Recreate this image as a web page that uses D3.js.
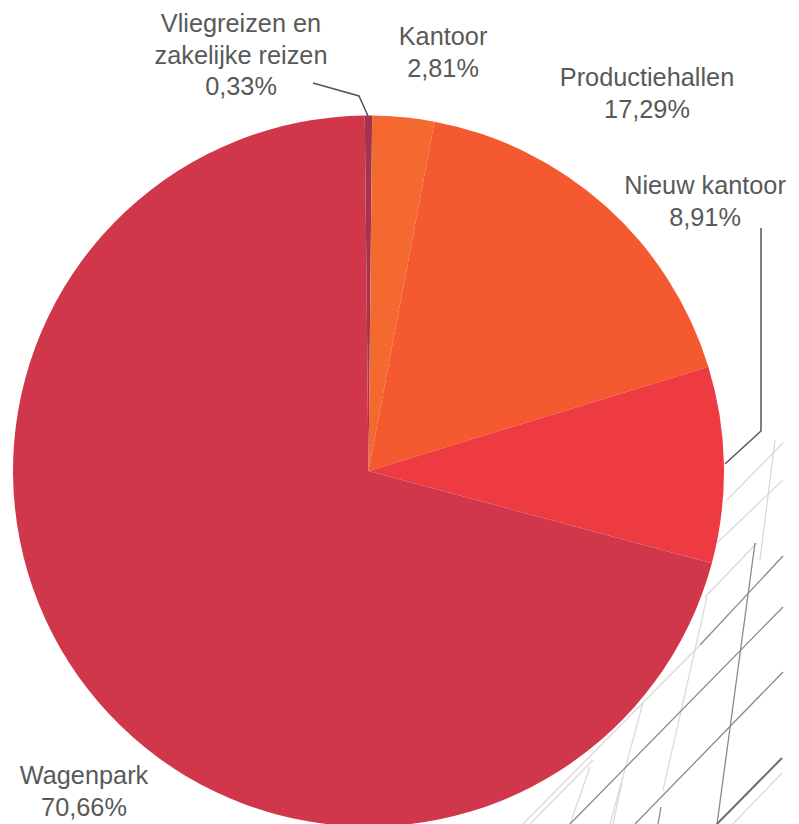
<!DOCTYPE html>
<html><head><meta charset="utf-8">
<script src="https://cdn.jsdelivr.net/npm/d3@7"></script>
<style>html,body{margin:0;padding:0;background:#fff}svg{display:block}
text{font-family:"Liberation Sans",Arial,sans-serif;font-size:25.3px;fill:#595959}</style>
</head><body><div id="c"></div>
<script>
const categories=["Vliegreizen en zakelijke reizen","Kantoor","Productiehallen","Nieuw kantoor","Wagenpark"];
const shares=[0.33,2.81,17.29,8.91,70.66];
const colors=["#a3344f","#f4692f","#f5592f","#ee3b42","#d1374b"];
const labelLines=[["Vliegreizen en","zakelijke reizen","0,33%"],["Kantoor","2,81%"],["Productiehallen","17,29%"],["Nieuw kantoor","8,91%"],["Wagenpark","70,66%"]];
const labelAnchors=[[241,32],[443,45],[647,86],[705,194],[84,784]];
const leaders=[[[313,83],[359,96],[368,116]],[[761,228],[761,431],[725,464]]];
// faint architectural line-work showing through the scanned page
const darkLines=[[[700,645],[783,556]],[[570,824],[783,607]],[[635,824],[783,672]],[[717,824],[755,543]],[[661,807],[658,824]]];
const thickLines=[[[717,824],[782,758]]];
const paleLines=[[[523,824],[700,645]],[[530,824],[593,760]],[[610,824],[643,703]],[[663,790],[707,597]],[[570,824],[590,767]],[[613,824],[622,783]],[[727,500],[783,443]],[[717,543],[783,480]],[[733,824],[782,773]],[[760,560],[775,440]],[[705,597],[757,543]]];

const W=799,H=824,cx=368.5,cy=471,R=355.5;
const svg=d3.select("#c").append("svg").attr("width",W).attr("height",H);
const line=d3.line();
function strokes(data,color,width){
  svg.append("g").selectAll("path").data(data).join("path").attr("d",line).attr("fill","none").attr("stroke",color).attr("stroke-width",width);
}
strokes(paleLines,"#d8d8d8",1.2);
strokes(darkLines,"#8a8a8a",1.3);
strokes(thickLines,"#6e6e6e",2);
const pie=d3.pie().sort(null).startAngle(-0.6*Math.PI/180).endAngle(2*Math.PI-0.6*Math.PI/180);
const arc=d3.arc().innerRadius(0).outerRadius(R);
svg.append("g").attr("transform",`translate(${cx},${cy})`).selectAll("path").data(pie(shares)).join("path")
  .attr("d",arc).attr("fill",(d,i)=>colors[i]);
strokes(leaders,"#555",1.5);
const t=svg.append("g").selectAll("text").data(labelLines).join("text").attr("text-anchor","middle")
  .attr("transform",(d,i)=>`translate(${labelAnchors[i][0]},${labelAnchors[i][1]})`);
t.selectAll("tspan").data(d=>d).join("tspan").attr("x",0).attr("y",(d,i)=>i*31.6).text(d=>d);
</script></body></html>
